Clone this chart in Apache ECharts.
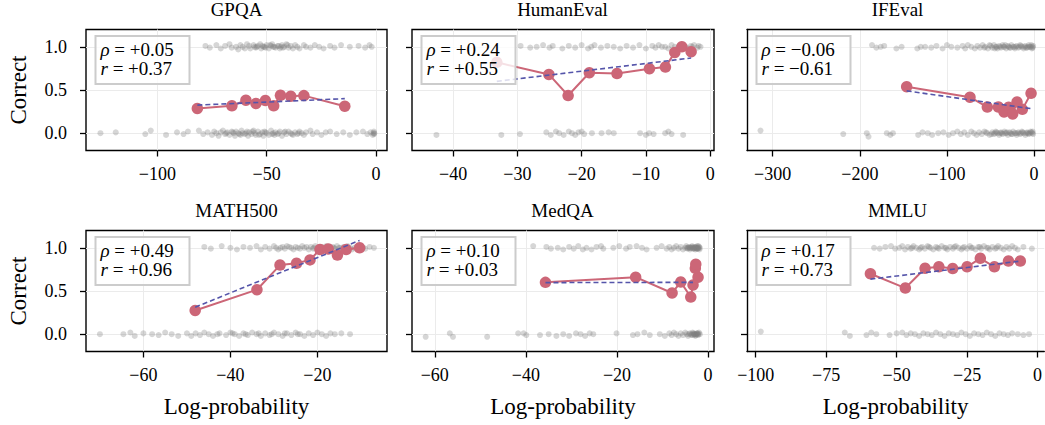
<!DOCTYPE html>
<html>
<head>
<meta charset="utf-8">
<script src="https://cdn.jsdelivr.net/npm/echarts@6/dist/echarts.min.js"></script>
<style>
html,body{margin:0;padding:0;background:#fff;}
#chart{width:1045px;height:425px;}
</style>
</head>
<body>
<div id="chart"></div>
<script>
// ---------------- DATA ----------------
const panelNames = ['GPQA', 'HumanEval', 'IFEval', 'MATH500', 'MedQA', 'MMLU'];
const rhoText = ['+0.05', '+0.24', '\u22120.06', '+0.49', '+0.10', '+0.17'];
const rText = ['+0.37', '+0.55', '\u22120.61', '+0.96', '+0.03', '+0.73'];

const xTicks = [
  [-100, -50, 0],
  [-40, -30, -20, -10, 0],
  [-300, -200, -100, 0],
  [-60, -40, -20],
  [-60, -40, -20, 0],
  [-100, -75, -50, -25, 0]
];
const xRanges = [[-132.6, 5.0], [-46.4, 0.6], [-329.5, 12.6], [-73.2, -4.0], [-65.0, 1.3], [-103.1, 2.4]];
const yTicks = [0, 0.5, 1.0];
const yRange = [-0.2, 1.2];

// binned mean accuracy (red line)
const gpqaBinX = [-81.7, -65.9, -59.5, -54.9, -50.6, -46.8, -43.7, -39.0, -33.0, -14.3];
const gpqaBinY = [0.286, 0.317, 0.382, 0.344, 0.378, 0.317, 0.439, 0.427, 0.435, 0.313];
const humanevalBinX = [-33.2, -25.1, -22.1, -18.8, -14.5, -9.45, -6.96, -5.5, -4.4, -2.96];
const humanevalBinY = [0.82, 0.68, 0.436, 0.70, 0.69, 0.746, 0.765, 0.935, 1.0, 0.943];
const ifevalBinX = [-146.2, -73.5, -53.6, -40.9, -34.4, -29.1, -24.5, -19.5, -13.4, -3.4];
const ifevalBinY = [0.538, 0.417, 0.303, 0.303, 0.246, 0.30, 0.223, 0.36, 0.276, 0.462];
const mathBinX = [-48.1, -33.9, -28.6, -24.8, -21.7, -19.4, -17.5, -15.4, -13.4, -10.3];
const mathBinY = [0.275, 0.515, 0.80, 0.82, 0.86, 0.98, 0.985, 0.916, 0.98, 1.0];
const medqaBinX = [-35.7, -15.9, -7.9, -6.0, -3.8, -3.3, -2.2, -2.8, -2.7];
const medqaBinY = [0.60, 0.66, 0.477, 0.603, 0.43, 0.57, 0.66, 0.763, 0.81];
const mmluBinX = [-59.3, -46.9, -39.9, -35.0, -30.1, -25.0, -20.3, -15.3, -10.3, -6.1];
const mmluBinY = [0.70, 0.534, 0.763, 0.78, 0.76, 0.78, 0.878, 0.78, 0.847, 0.847];

// linear fit endpoints (dashed line)
const gpqaFitX = [-81.7, -14.3];     const gpqaFitY = [0.325, 0.40];
const humanevalFitX = [-33.2, -2.96]; const humanevalFitY = [0.60, 0.87];
const ifevalFitX = [-146.2, -3.4];    const ifevalFitY = [0.49, 0.284];
const mathFitX = [-48.1, -10.3];      const mathFitY = [0.313, 1.085];
const medqaFitX = [-35.7, -3.3];      const medqaFitY = [0.597, 0.60];
const mmluFitX = [-59.3, -6.1];       const mmluFitY = [0.637, 0.846];

// individual samples: [log-probability, jittered correctness]
const gpqaCorrect = [[-78,1.01],[-76,0.99],[-73,1.02],[-71,0.98],[-69,1.01],[-67,1.03],[-66,0.99],[-64,1.0],[-63,0.97],[-62,1.02],[-61,1.0],[-60,0.98],[-59,1.03],[-58,1.01],[-57.5,0.98],[-56,1.02],[-55,0.99],[-54,1.01],[-53,1.03],[-52.5,0.98],[-51,1.0],[-50,1.02],[-49,0.98],[-48,1.01],[-47.5,1.03],[-46,0.99],[-45,1.01],[-44,0.98],[-43,1.02],[-42,1.0],[-41,1.03],[-40,0.99],[-39,1.01],[-38,0.98],[-37,1.02],[-36,1.0],[-35,0.98],[-33,1.02],[-32,1.0],[-30,0.99],[-28,1.02],[-26,1.0],[-24,0.98],[-21,1.01],[-19,0.99],[-16,1.02],[-12,1.0],[-8,1.01],[-5,0.99],[-3,1.02],[-2,1.0],[-55.5,1.0],[-52,1.01],[-50.5,0.99],[-48.5,1.02],[-46.5,1.0],[-44.5,1.01],[-42.5,0.99],[-40.5,1.02],[-54.5,1.0],[-51.5,1.0],[-47,1.0],[-43.5,1.0]];
const gpqaWrong = [[-126,0.0],[-119,0.01],[-105.5,-0.01],[-103,0.03],[-96,-0.02],[-91,0.01],[-88,-0.01],[-86,0.02],[-81,0.03],[-79,-0.01],[-77,0.01],[-75,-0.02],[-74,0.02],[-73,0.0],[-72,-0.03],[-71,0.01],[-70,0.03],[-69,-0.01],[-68,0.01],[-67,-0.02],[-66,0.02],[-65,0.0],[-64.5,-0.03],[-64,0.02],[-63,0.0],[-62,-0.02],[-61.5,0.03],[-61,0.0],[-60,-0.01],[-59,0.02],[-58.5,-0.03],[-58,0.01],[-57,-0.01],[-56,0.03],[-55.5,0.0],[-55,-0.02],[-54,0.02],[-53,-0.01],[-52,0.01],[-51.5,-0.03],[-51,0.02],[-50,0.0],[-49,-0.02],[-48,0.03],[-47,0.0],[-46.5,-0.02],[-46,0.01],[-45,-0.01],[-44,0.02],[-43,-0.03],[-42,0.01],[-41,-0.01],[-40,0.02],[-39,0.0],[-38,-0.02],[-37,0.01],[-36,-0.01],[-35,0.02],[-34,0.0],[-33,-0.02],[-32,0.01],[-30,0.03],[-29,-0.01],[-27,0.01],[-25,-0.02],[-23,0.01],[-21,0.02],[-18,-0.01],[-15,0.01],[-12,-0.02],[-9,0.01],[-6,0.02],[-4,-0.01],[-2.5,0.01],[-1.5,-0.02],[-1,0.02],[-0.8,0.0],[-68.5,0.0],[-65.5,0.01],[-62.5,-0.01],[-59.5,0.0],[-56.5,0.02],[-53.5,-0.02],[-50.5,0.01],[-47.5,-0.01],[-44.5,0.0],[-41.5,0.02],[-38.5,-0.01],[-35.5,0.0],[-1.2,0.0],[-0.9,-0.01]];

const humanevalCorrect = [[-29.5,1.01],[-28,0.99],[-27,1.0],[-26,1.02],[-25,0.99],[-24.5,1.01],[-23,0.98],[-22,1.01],[-21,0.99],[-20,1.02],[-19,0.98],[-18.5,1.0],[-18,1.02],[-17,0.99],[-16,1.01],[-15,1.0],[-14,0.98],[-13,1.01],[-12,0.99],[-11,1.02],[-10,0.98],[-9,1.01],[-8.5,0.99],[-8,1.02],[-7,1.0],[-6.5,0.98],[-6,1.02],[-5.5,1.0],[-5,0.99],[-4.5,1.02],[-4,1.0],[-3.5,0.98],[-3,1.01],[-2.5,1.02],[-2,0.99],[-1.8,1.01],[-1.5,1.0],[-7.5,1.0],[-4.8,1.01],[-3.8,1.0],[-2.8,1.0]];
const humanevalWrong = [[-42.6,-0.02],[-32.5,-0.02],[-29.6,-0.01],[-25.5,0.01],[-24.8,-0.02],[-24,0.02],[-23.5,0.0],[-22.8,-0.02],[-22,0.02],[-21.5,0.0],[-21,-0.02],[-20.5,0.01],[-20,0.02],[-19.6,-0.01],[-18.4,0.0],[-16.9,0.0],[-15.8,0.01],[-15,0.0],[-10.9,0.0],[-10,-0.02],[-9.5,0.0],[-8.8,-0.01],[-7,0.0],[-6.5,0.02],[-6,-0.01],[-4.2,-0.02]];

const ifevalCorrect = [[-186,1.02],[-181,0.99],[-176,1.0],[-172,1.01],[-158,0.98],[-152,1.0],[-134,0.98],[-130,1.0],[-125,1.0],[-118,0.99],[-112,1.01],[-105,0.98],[-100,1.02],[-95,1.0],[-88,0.99],[-82,1.01],[-79,0.98],[-76,1.02],[-72,1.0],[-68,0.98],[-65,1.01],[-62,0.99],[-59,1.02],[-56,1.0],[-53,0.98],[-50,1.01],[-48,0.99],[-46,1.02],[-44,1.0],[-42,0.98],[-40,1.01],[-38,0.99],[-36,1.02],[-34,1.0],[-32,0.98],[-30,1.01],[-28,0.99],[-26,1.02],[-24,1.0],[-22,0.98],[-20,1.01],[-18,0.99],[-16,1.02],[-14,1.0],[-12,0.98],[-10,1.01],[-8,0.99],[-6,1.02],[-4,1.0],[-2.5,0.98],[-1,1.01],[-57,0.99],[-51,1.02],[-45,0.98],[-39,1.0],[-33,1.02],[-27,0.99],[-21,1.0],[-15,1.01],[-9,0.99],[-5,1.0],[-3,1.02],[-1.5,0.99],[-43,1.0],[-35,1.0],[-29,1.0],[-23,1.0],[-17,1.0],[-11,1.0],[-7,1.0],[-2,1.0]];
const ifevalWrong = [[-314,0.03],[-219,-0.01],[-192,0.0],[-190,-0.04],[-169,0.0],[-165,-0.02],[-162,0.0],[-133,-0.02],[-128,0.01],[-122,0.0],[-117,-0.02],[-110,0.0],[-104,0.01],[-98,-0.02],[-93,0.0],[-88,0.02],[-84,-0.01],[-80,0.01],[-76,-0.02],[-72,0.02],[-69,0.0],[-66,-0.02],[-63,0.01],[-60,-0.01],[-57,0.02],[-54,0.0],[-51,-0.02],[-48,0.01],[-46,-0.01],[-44,0.02],[-42,0.0],[-40,-0.02],[-38,0.01],[-36,-0.01],[-34,0.02],[-32,0.0],[-30,-0.02],[-28,0.01],[-26,-0.01],[-24,0.02],[-22,0.0],[-20,-0.02],[-18,0.01],[-16,-0.01],[-14,0.02],[-12,0.0],[-10,-0.02],[-8,0.01],[-6,-0.01],[-4,0.02],[-2,0.0],[-1,-0.01],[-55,0.01],[-49,-0.01],[-43,0.01],[-37,0.0],[-31,0.01],[-25,-0.01],[-19,0.0],[-13,0.01],[-7,0.0],[-3,0.01],[-1.5,0.02],[-45,0.0],[-39,0.0],[-33,0.0],[-27,0.0],[-21,0.0],[-15,0.0],[-9,0.0],[-5,0.0]];

const mathCorrect = [[-46,1.01],[-44.5,0.99],[-42,1.02],[-40,1.0],[-38.5,0.98],[-37,1.01],[-35.5,1.0],[-34,1.02],[-33,0.98],[-32,1.01],[-31,0.99],[-30,1.02],[-29.5,1.0],[-29,0.98],[-28,1.01],[-27.5,0.99],[-27,1.02],[-26,1.0],[-25.5,0.98],[-25,1.01],[-24,0.99],[-23.5,1.02],[-23,1.0],[-22,0.98],[-21.5,1.01],[-21,0.99],[-20.5,1.02],[-20,1.0],[-19.5,0.98],[-19,1.01],[-18.5,0.99],[-18,1.02],[-17.5,1.0],[-17,0.98],[-16.5,1.01],[-16,0.99],[-15.5,1.02],[-15,1.0],[-14.5,0.98],[-14,1.01],[-13.5,0.99],[-13,1.02],[-12.5,1.0],[-12,0.98],[-11,1.01],[-10.5,0.99],[-10,1.02],[-9.5,1.0],[-9,0.99],[-8,1.01],[-7,1.0],[-28.5,1.0],[-26.5,1.01],[-24.5,1.0],[-22.5,1.01],[-20.8,1.0],[-19.2,1.0],[-17.8,1.01],[-16.2,1.0],[-14.8,1.0],[-13.2,1.01],[-11.5,1.0]];
const mathWrong = [[-70,0.0],[-64.6,0.0],[-63,0.02],[-62,-0.02],[-60,0.01],[-58,0.0],[-56.5,-0.01],[-55,0.02],[-53.5,0.0],[-52,-0.02],[-50,0.01],[-49,-0.02],[-48,0.01],[-47,-0.01],[-46,0.02],[-45,0.0],[-44,-0.02],[-42.5,0.01],[-41,-0.01],[-40,0.02],[-39,0.0],[-38,-0.02],[-37,0.01],[-36,-0.01],[-35,0.02],[-34,0.0],[-33,-0.02],[-32,0.01],[-31,-0.01],[-30,0.02],[-29,0.0],[-28,-0.02],[-27,0.01],[-26,-0.01],[-25,0.02],[-24,0.0],[-23,-0.02],[-22,0.01],[-21,-0.01],[-20,0.02],[-19,0.0],[-18,-0.02],[-17,0.01],[-16,0.0],[-14.5,0.01],[-12.5,0.0],[-43,0.0],[-39.5,0.01],[-36.5,0.0],[-33.5,0.01],[-30.5,0.0],[-27.5,0.01],[-24.5,0.0]];

const medqaCorrect = [[-38.4,1.02],[-35.5,1.01],[-34.5,0.99],[-33,1.0],[-31.8,0.98],[-30.5,1.01],[-29.5,0.99],[-28.5,1.02],[-27.5,0.98],[-26.7,1.0],[-25.6,0.98],[-24.5,1.01],[-23.5,1.02],[-23,0.99],[-20.8,1.0],[-19.5,1.02],[-18,0.99],[-17.2,1.01],[-15.7,1.02],[-14.5,1.0],[-13.5,0.98],[-11.3,1.0],[-10.2,1.02],[-9.1,0.99],[-8.5,1.01],[-8,0.98],[-7.5,1.0],[-7,1.02],[-6.5,0.99],[-6,1.01],[-5.5,0.98],[-5,1.0],[-4.8,1.02],[-4.5,0.99],[-4.2,1.01],[-4,0.98],[-3.8,1.0],[-3.5,1.02],[-3.3,0.99],[-3,1.01],[-2.8,0.98],[-2.6,1.0],[-2.4,1.02],[-2.2,0.99],[-2,1.01],[-1.9,0.98],[-1.8,1.0],[-4.6,1.0],[-4.1,1.0],[-3.6,1.01],[-3.1,0.99],[-2.7,1.01],[-2.3,1.0],[-2.1,1.02],[-3.4,1.0],[-2.9,1.0],[-2.5,0.99],[-3.2,1.0],[-2.75,1.0],[-2.35,0.99],[-2.05,1.0],[-3.9,1.0],[-4.4,1.0]];
const medqaWrong = [[-62,-0.03],[-56.7,0.01],[-56,-0.03],[-48.5,-0.03],[-41.7,0.01],[-40.5,0.01],[-39.9,-0.01],[-36.9,-0.01],[-35,0.0],[-33.3,-0.02],[-31.8,0.0],[-30.5,-0.02],[-29,0.01],[-28,0.0],[-27,-0.02],[-26,0.01],[-25.2,0.0],[-20.1,0.01],[-16.5,-0.01],[-15.5,0.0],[-14,0.02],[-12.8,-0.01],[-10.6,0.0],[-9.5,-0.02],[-8.5,0.01],[-8,-0.01],[-7.5,0.02],[-7,0.0],[-6.5,-0.02],[-6,0.01],[-5.5,-0.01],[-5,0.02],[-4.7,0.0],[-4.4,-0.02],[-4,0.01],[-3.7,-0.01],[-3.4,0.02],[-3.1,0.0],[-2.8,-0.02],[-2.5,0.01],[-2.2,-0.01],[-2,0.02],[-1.8,0.0],[-4.2,0.0],[-3.6,0.0],[-3.2,0.01],[-2.9,0.0],[-2.6,0.0],[-2.3,0.01],[-3.0,0.0],[-2.7,-0.01],[-2.4,0.0],[-2.1,0.0],[-3.3,-0.01]];

const mmluCorrect = [[-58,1.0],[-56,0.99],[-54,1.01],[-52,1.02],[-50.5,0.99],[-49,1.0],[-48,1.02],[-47,0.98],[-46,1.01],[-45,0.99],[-44,1.02],[-43,1.0],[-42,0.98],[-41,1.01],[-40,0.99],[-39,1.02],[-38,1.0],[-37,0.98],[-36,1.01],[-35,0.99],[-34,1.02],[-33,1.0],[-32,0.98],[-31,1.01],[-30,0.99],[-29,1.02],[-28,1.0],[-27,0.98],[-26,1.01],[-25,0.99],[-24,1.02],[-23,1.0],[-22,0.98],[-21,1.01],[-20,0.99],[-19,1.02],[-18,1.0],[-17,0.98],[-16,1.01],[-15,0.99],[-14,1.02],[-13,1.0],[-12,0.98],[-11,1.01],[-10,0.99],[-9,1.02],[-8,1.0],[-7,0.98],[-5,1.01],[-2,0.99],[-44.5,1.0],[-41.5,1.0],[-38.5,1.01],[-35.5,1.0],[-32.5,1.0],[-29.5,1.01],[-26.5,1.0],[-23.5,1.0],[-20.5,1.01],[-17.5,1.0],[-14.5,1.0]];
const mmluWrong = [[-98.2,0.03],[-68.4,0.02],[-66.6,-0.02],[-60.7,-0.01],[-59,0.02],[-57.2,0.0],[-52.5,-0.01],[-50,0.01],[-48,0.02],[-46.5,-0.01],[-45,0.01],[-43.5,0.0],[-42,-0.02],[-40.5,0.01],[-39,0.0],[-37.5,-0.01],[-36,0.02],[-34.5,0.0],[-33,-0.02],[-31.5,0.01],[-30,0.0],[-28.5,-0.01],[-27,0.02],[-25.5,0.0],[-24,-0.02],[-22.5,0.01],[-21,0.0],[-19.5,-0.01],[-18,0.02],[-16.5,0.0],[-15,-0.02],[-13.5,0.01],[-12,0.0],[-10.5,-0.01],[-9,0.01],[-7,0.0],[-5,-0.01],[-3,0.0]];

// ---------------- BUILD ----------------
const binsX = [gpqaBinX, humanevalBinX, ifevalBinX, mathBinX, medqaBinX, mmluBinX];
const binsY = [gpqaBinY, humanevalBinY, ifevalBinY, mathBinY, medqaBinY, mmluBinY];
const fitsX = [gpqaFitX, humanevalFitX, ifevalFitX, mathFitX, medqaFitX, mmluFitX];
const fitsY = [gpqaFitY, humanevalFitY, ifevalFitY, mathFitY, medqaFitY, mmluFitY];
const samples = [
  gpqaCorrect.concat(gpqaWrong),
  humanevalCorrect.concat(humanevalWrong),
  ifevalCorrect.concat(ifevalWrong),
  mathCorrect.concat(mathWrong),
  medqaCorrect.concat(medqaWrong),
  mmluCorrect.concat(mmluWrong)
];

const FONT = 'Liberation Serif';
const colLeft = [86, 412, 747];
const colWidth = [301, 302, 298];
const rowTop = [29.5, 230.5];
const rowHeight = 121;
const titleTop = [0, 201];
const FRAME_W = 1.4;

const fmtX = v => (v < 0 ? '\u2212' + Math.abs(v) : String(v));

const grids = [], xAxes = [], yAxes = [], series = [], titles = [], extraX = [];
for (let i = 0; i < 6; i++) {
  const c = i % 3, r = Math.floor(i / 3);
  const openRight = (c === 2); // right-most panels are cut by the page edge
  grids.push({
    left: colLeft[c], top: rowTop[r], width: colWidth[c], height: rowHeight,
    show: !openRight, borderColor: '#000', borderWidth: FRAME_W, backgroundColor: 'transparent', containLabel: false
  });
  xAxes.push({
    type: 'value', gridIndex: i, min: xRanges[i][0], max: xRanges[i][1], position: 'bottom',
    axisLine: { show: openRight, onZero: false, lineStyle: { color: '#000', width: FRAME_W } },
    axisTick: { show: true, inside: false, length: 6, customValues: xTicks[i], lineStyle: { color: '#000', width: 1.3 } },
    axisLabel: { show: true, customValues: xTicks[i], formatter: fmtX, margin: 14.5, color: '#000', fontFamily: FONT, fontSize: 18 },
    splitLine: { show: true, lineStyle: { color: '#ebebeb', width: 1 } },
    name: r === 1 ? 'Log-probability' : '',
    nameLocation: 'middle', nameGap: 43,
    nameTextStyle: { fontFamily: FONT, fontSize: 23, color: '#000' }
  });
  if (openRight) {
    extraX.push({
      type: 'value', gridIndex: i, min: xRanges[i][0], max: xRanges[i][1], position: 'top',
      axisLine: { show: true, onZero: false, lineStyle: { color: '#000', width: FRAME_W } },
      axisTick: { show: false }, axisLabel: { show: false }, splitLine: { show: false }
    });
  }
  yAxes.push({
    type: 'value', gridIndex: i, min: yRange[0], max: yRange[1], position: 'left',
    axisLine: { show: openRight, onZero: false, lineStyle: { color: '#000', width: FRAME_W } },
    axisTick: { show: true, inside: false, length: 6, customValues: yTicks, lineStyle: { color: '#000', width: 1.3 } },
    axisLabel: { show: c === 0, customValues: yTicks, formatter: v => v.toFixed(1), margin: 19, color: '#000', fontFamily: FONT, fontSize: 18 },
    splitLine: { show: true, lineStyle: { color: '#ebebeb', width: 1 } },
    name: c === 0 ? 'Correct' : '',
    nameLocation: 'middle', nameGap: 56,
    nameTextStyle: { fontFamily: FONT, fontSize: 23, color: '#000' }
  });
  series.push({
    type: 'scatter', xAxisIndex: i, yAxisIndex: i, data: samples[i],
    symbolSize: 6, itemStyle: { color: '#7f7f7f', opacity: 0.32 }, z: 1, silent: true
  });
  series.push({
    type: 'line', xAxisIndex: i, yAxisIndex: i,
    data: binsX[i].map((x, k) => [x, binsY[i][k]]),
    symbol: 'circle', symbolSize: 11.5, showSymbol: true,
    itemStyle: { color: '#CC6677', opacity: 1 },
    lineStyle: { color: '#CC6677', width: 2 }, z: 3
  });
  series.push({
    type: 'line', xAxisIndex: i, yAxisIndex: i,
    data: fitsX[i].map((x, k) => [x, fitsY[i][k]]),
    symbol: 'none',
    lineStyle: { color: '#5555aa', width: 1.6, type: [5, 3] }, z: 4
  });
  titles.push({
    text: panelNames[i], left: colLeft[c] + 301 / 2, top: titleTop[r], textAlign: 'center', padding: 0,
    textStyle: { fontFamily: FONT, fontSize: 19, fontWeight: 'normal', color: '#000' }
  });
  titles.push({
    text: '{i|\u03C1} = ' + rhoText[i] + '\n{i|r} = ' + rText[i],
    left: colLeft[c] + 9.5, top: rowTop[r] + 6.5,
    padding: [4, 16, 6, 5],
    backgroundColor: 'rgba(255,255,255,0.8)', borderColor: '#cccccc', borderWidth: 2,
    textStyle: {
      fontFamily: FONT, fontSize: 19, lineHeight: 19, fontWeight: 'normal', color: '#000',
      rich: { i: { fontFamily: FONT, fontSize: 19, lineHeight: 19, fontStyle: 'italic', color: '#000' } }
    },
    z: 10
  });
}

const chart = echarts.init(document.getElementById('chart'), null, { renderer: 'svg', width: 1045, height: 425 });
chart.setOption({
  animation: false,
  backgroundColor: '#fff',
  title: titles,
  grid: grids,
  xAxis: xAxes.concat(extraX),
  yAxis: yAxes,
  series: series
});
</script>
</body>
</html>
